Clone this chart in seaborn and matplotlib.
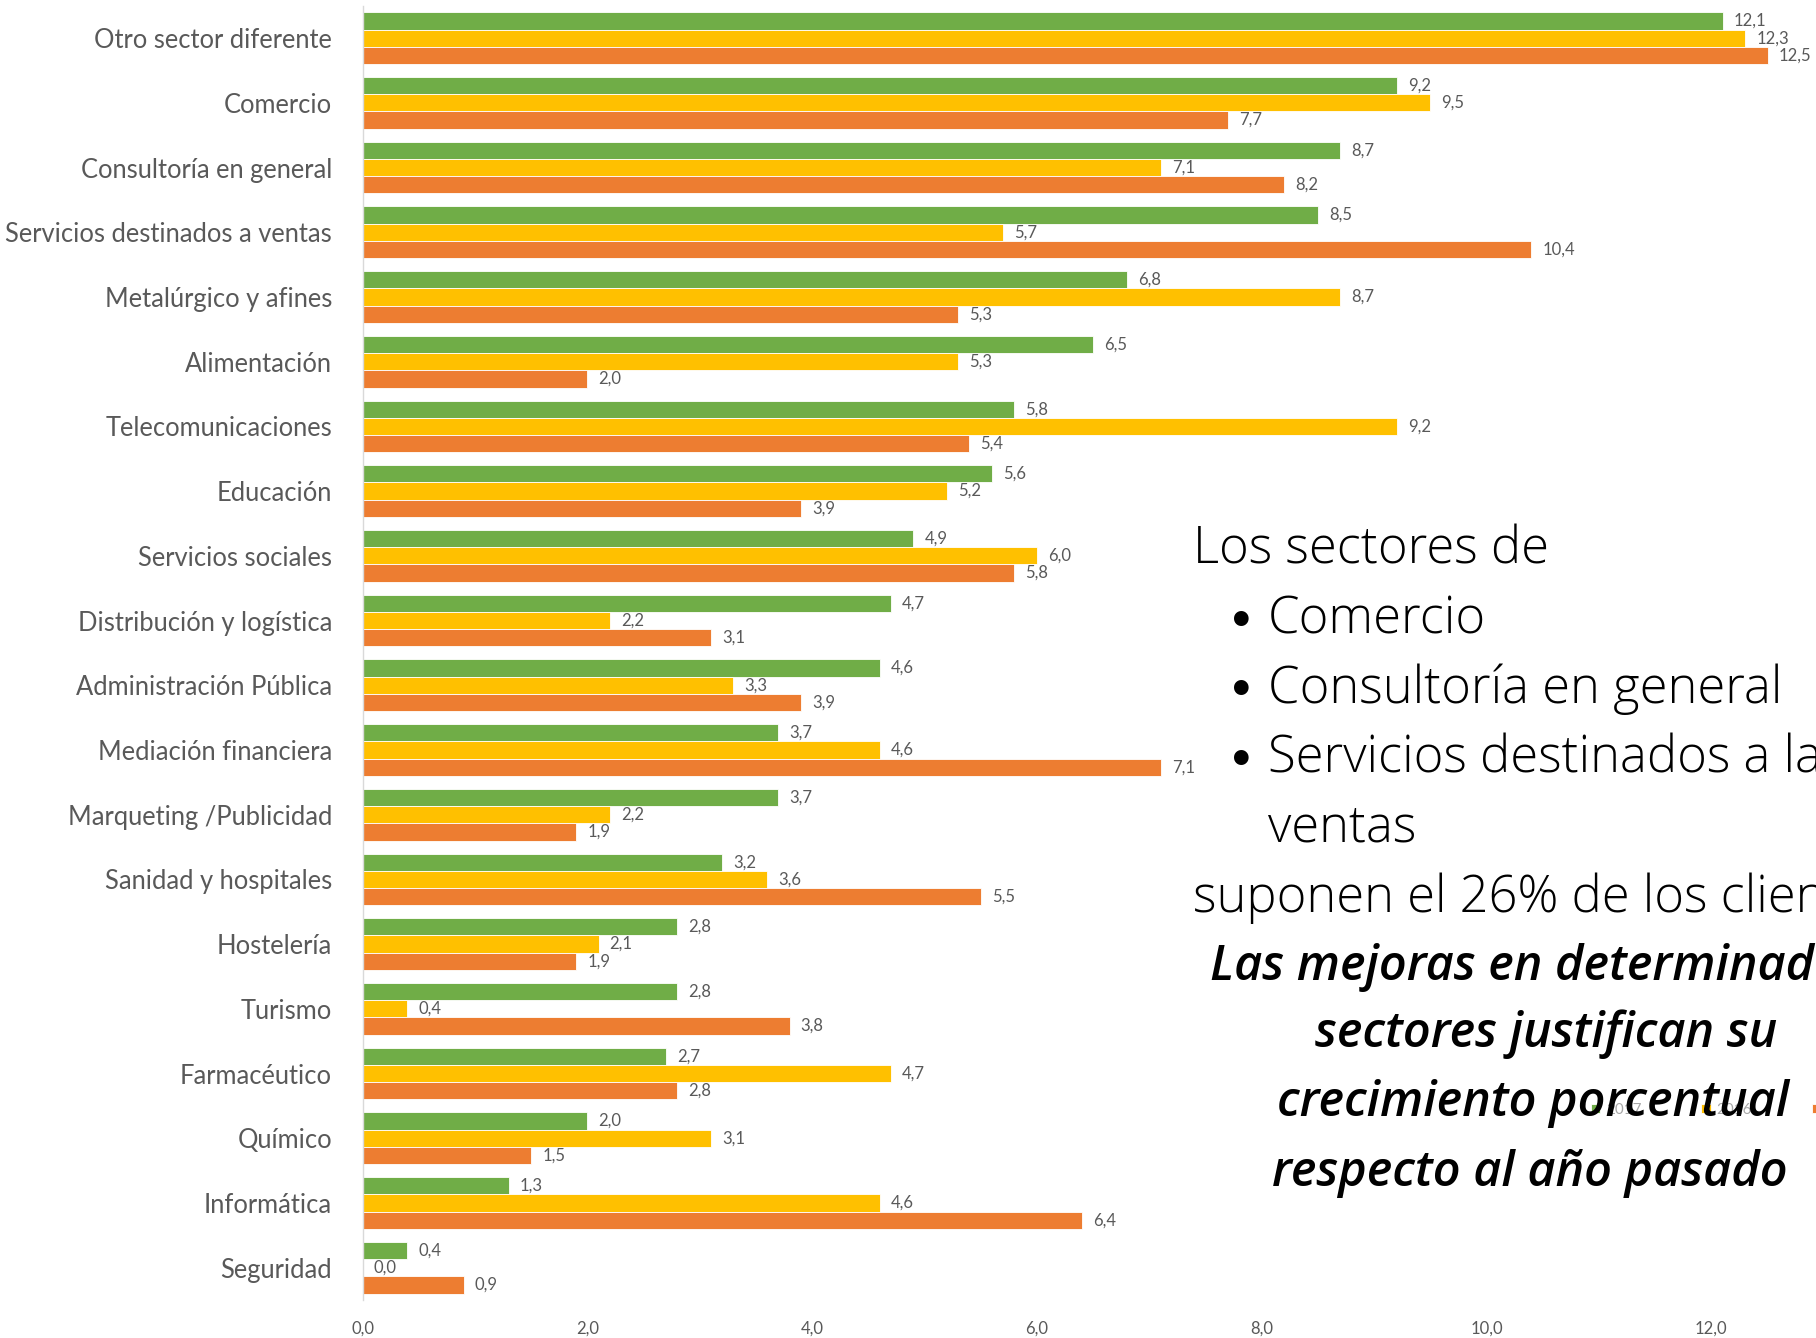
import matplotlib
matplotlib.use("Agg")
import matplotlib.pyplot as plt
import seaborn as sns
import pandas as pd

# Sectors (top to bottom) and share of clients per year, in %
sectors = [
    "Otro sector diferente", "Comercio", "Consultoría en general",
    "Servicios destinados a ventas", "Metalúrgico y afines", "Alimentación",
    "Telecomunicaciones", "Educación", "Servicios sociales",
    "Distribución y logística", "Administración Pública", "Mediación financiera",
    "Marqueting /Publicidad", "Sanidad y hospitales", "Hostelería", "Turismo",
    "Farmacéutico", "Químico", "Informática", "Seguridad",
]
years = ["2017", "2016", "2015"]
v2017 = [12.1, 9.2, 8.7, 8.5, 6.8, 6.5, 5.8, 5.6, 4.9, 4.7, 4.6, 3.7, 3.7, 3.2, 2.8, 2.8, 2.7, 2.0, 1.3, 0.4]
v2016 = [12.3, 9.5, 7.1, 5.7, 8.7, 5.3, 9.2, 5.2, 6.0, 2.2, 3.3, 4.6, 2.2, 3.6, 2.1, 0.4, 4.7, 3.1, 4.6, 0.0]
v2015 = [12.5, 7.7, 8.2, 10.4, 5.3, 2.0, 5.4, 3.9, 5.8, 3.1, 3.9, 7.1, 1.9, 5.5, 1.9, 3.8, 2.8, 1.5, 6.4, 0.9]
xticks = [0, 2, 4, 6, 8, 10, 12]
colors = ["#70AD47", "#FFC000", "#ED7D31"]

df = pd.DataFrame({
    "sector": sectors * 3,
    "year": [y for y in years for _ in sectors],
    "value": v2017 + v2016 + v2015,
})

sns.set_theme(style="white")
plt.rcParams["font.family"] = ["Lato", "DejaVu Sans"]
grey = "#595959"

W, H = 1816, 1338
fig = plt.figure(figsize=(W / 100, H / 100), dpi=100)
x0_px, unit_px = 362.5, 112.4
xmax = 13.0
ax = fig.add_axes([x0_px / W, 1 - 1300 / H, xmax * unit_px / W, (1300 - 5.8) / H])

sns.barplot(data=df, y="sector", x="value", hue="year", hue_order=years,
            palette=colors, orient="h", width=0.8, saturation=1,
            edgecolor="white", linewidth=0.6, ax=ax, legend=True)

for cont in ax.containers:
    labels = [f"{b.get_width():.1f}".replace(".", ",") for b in cont]
    ax.bar_label(cont, labels=labels, padding=8, fontsize=12, color=grey)

ax.set_xlim(0, xmax)
ax.set_ylim(len(sectors) - 0.5, -0.5)
ax.set_xticks(xticks)
ax.set_xticklabels([f"{t:.1f}".replace(".", ",") for t in xticks], fontsize=12, color=grey)
ax.set_xlabel("")
ax.set_ylabel("")
ax.tick_params(axis="x", length=0, pad=15)
ax.tick_params(axis="y", length=0, pad=22, labelsize=18.4, labelcolor=grey)
for s in ["top", "right", "bottom"]:
    ax.spines[s].set_visible(False)
ax.spines["left"].set_color("#D9D9D9")
ax.spines["left"].set_linewidth(1)

leg = ax.legend(loc="center left", bbox_to_anchor=(1585 / W, 1 - 1110 / H),
                bbox_transform=fig.transFigure, ncol=3, frameon=False,
                fontsize=11, handlelength=0.6, handleheight=0.6,
                handletextpad=0.4, columnspacing=3.9, borderaxespad=0)
for t in leg.get_texts():
    t.set_color("#A6A6A6")

# Commentary overlaid on the right of the chart
txt_font = ["Open Sans", "DejaVu Sans"]
light = dict(fontsize=36.5, color="black", fontweight="light", va="center",
             ha="left", family=txt_font)
bullet = dict(fontsize=30, color="black", fontweight="bold", va="center",
              ha="left", family=["DejaVu Sans"])
fig.text(1193 / W, 1 - 550 / H, "Los sectores de", **light)
for y, txt in [(620, "Comercio"), (689, "Consultoría en general"),
               (759, "Servicios destinados a las")]:
    fig.text(1228 / W, 1 - (y + 2) / H, "•", **bullet)
    fig.text(1268 / W, 1 - y / H, txt, **light)
fig.text(1268 / W, 1 - 828 / H, "ventas", **light)
fig.text(1193 / W, 1 - 898 / H, "suponen el 26% de los clientes", **light)

ital = dict(fontsize=35, color="black", fontweight="semibold", style="italic",
            va="center", ha="left", family=txt_font)
fig.text(1210 / W, 1 - 967 / H, "Las mejoras en determinados", **ital)
fig.text(1315 / W, 1 - 1034 / H, "sectores justifican su", **ital)
fig.text(1277 / W, 1 - 1104 / H, "crecimiento porcentual", **ital)
fig.text(1272 / W, 1 - 1173 / H, "respecto al año pasado", **ital)

fig.savefig("out.png", dpi=100)
